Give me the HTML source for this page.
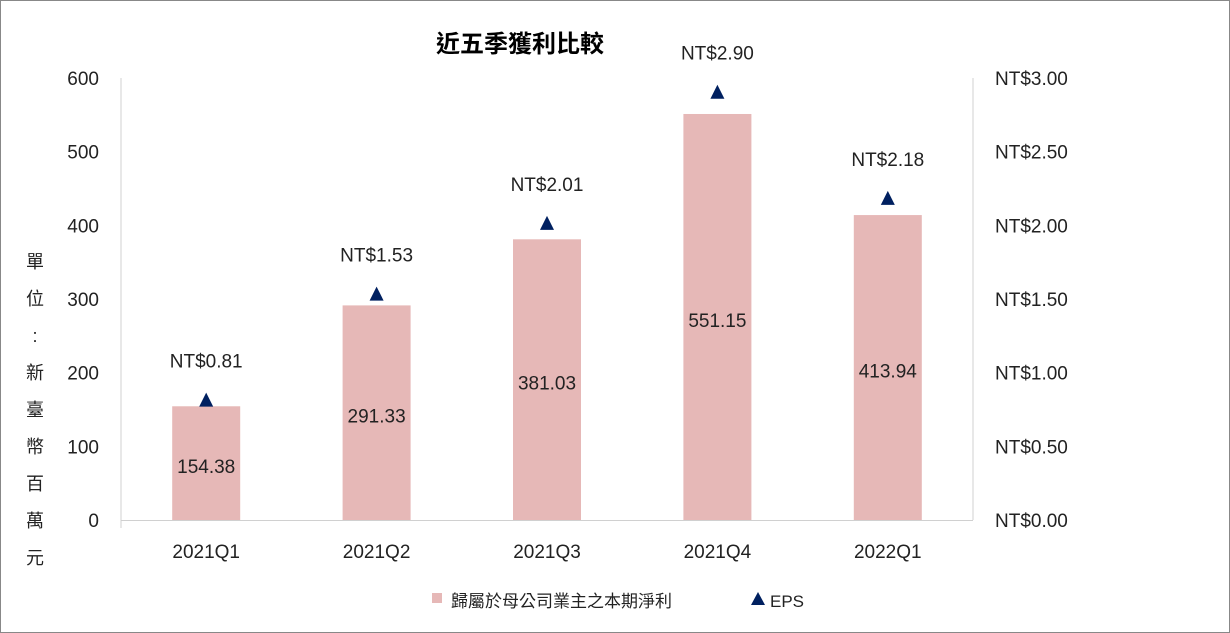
<!DOCTYPE html>
<html><head><meta charset="utf-8"><style>
body{margin:0;background:#fff}
svg{display:block;font-family:"Liberation Sans","Noto Sans CJK TC",sans-serif}
</style></head><body>
<svg id="c" width="1230" height="633" xmlns="http://www.w3.org/2000/svg">
<rect x="0.5" y="0.5" width="1229" height="632" fill="#fff" stroke="#888"/>
<text x="520" y="52" text-anchor="middle" font-size="24" font-weight="bold" fill="#000">近五季獲利比較</text>
<g id="ytitle"></g>
<g id="plot"></g>
<g>
<rect x="432" y="593" width="10" height="10" fill="#e6b8b7"/>
<text x="451" y="607" font-size="17" fill="#222">歸屬於母公司業主之本期淨利</text>
<polygon points="758,592 765,605 751,605" fill="#002060"/>
<text x="770" y="607" font-size="17" fill="#222">EPS</text>
</g>
</svg>
<script>
const categories=["2021Q1","2021Q2","2021Q3","2021Q4","2022Q1"];
const profit=[154.38,291.33,381.03,551.15,413.94];
const eps=[0.81,1.53,2.01,2.90,2.18];
const leftTicks=[0,100,200,300,400,500,600];
const rightTicks=[0,0.5,1,1.5,2,2.5,3];
const NS="http://www.w3.org/2000/svg";
const X0=121,X1=973,Y0=520,Y1=78;
const yL=v=>Y0-(v/600)*(Y0-Y1);
const yR=v=>Y0-(v/3)*(Y0-Y1);
const bw=(X1-X0)/categories.length;
const xc=i=>X0+bw*(i+0.5);
const plot=document.getElementById('plot');
function mk(t,a,txt){const e=document.createElementNS(NS,t);for(const k in a)e.setAttribute(k,a[k]);if(txt!=null)e.textContent=txt;plot.appendChild(e);return e;}
let e;
e=mk('line',{x1:X0,y1:Y1,x2:X0,y2:Y0+8,stroke:'#d0d0d0'});


e=mk('line',{x1:X1,y1:Y1,x2:X1,y2:Y0,stroke:'#d0d0d0'});


e=mk('line',{x1:X0,y1:Y0+0.5,x2:X1,y2:Y0+0.5,stroke:'#d0d0d0'});


leftTicks.forEach(v=>{
 e=mk('text',{x:99,y:yL(v)+7,'text-anchor':'end','font-size':19,fill:'#222'},String(v));
 
 
});
rightTicks.forEach(v=>{
 e=mk('text',{x:995,y:yR(v)+7,'font-size':19,fill:'#222'},'NT$'+v.toFixed(2));
 
 
});
categories.forEach((c,i)=>{
 const x=xc(i);
 e=mk('rect',{x:x-34,y:yL(profit[i]),width:68,height:Y0-yL(profit[i]),fill:'#e6b8b7'});
 
 
 e=mk('text',{x:x,y:(yL(profit[i])+Y0)/2+10,'text-anchor':'middle','font-size':19,fill:'#222'},profit[i].toFixed(2));
 
 
 const y=yR(eps[i]);
 e=mk('polygon',{points:`${x},${y-8} ${x+7},${y+6} ${x-7},${y+6}`,fill:'#002060'});
 
 
 e=mk('text',{x:x,y:y-33,'text-anchor':'middle','font-size':19,fill:'#222'},'NT$'+eps[i].toFixed(2));
 
 
 e=mk('text',{x:x,y:558,'text-anchor':'middle','font-size':19,fill:'#222'},c);
 
 
});
const yt=document.getElementById('ytitle');
"單位：新臺幣百萬元".split('').forEach((ch,i)=>{
 const t=document.createElementNS(NS,'text');
 t.setAttribute('x',35);t.setAttribute('y',268+i*37);
 t.setAttribute('text-anchor','middle');t.setAttribute('font-size',18);t.setAttribute('fill','#222');
 t.textContent=ch==='：'?':':ch;
 
 
 yt.appendChild(t);
});
</script>
</body></html>
